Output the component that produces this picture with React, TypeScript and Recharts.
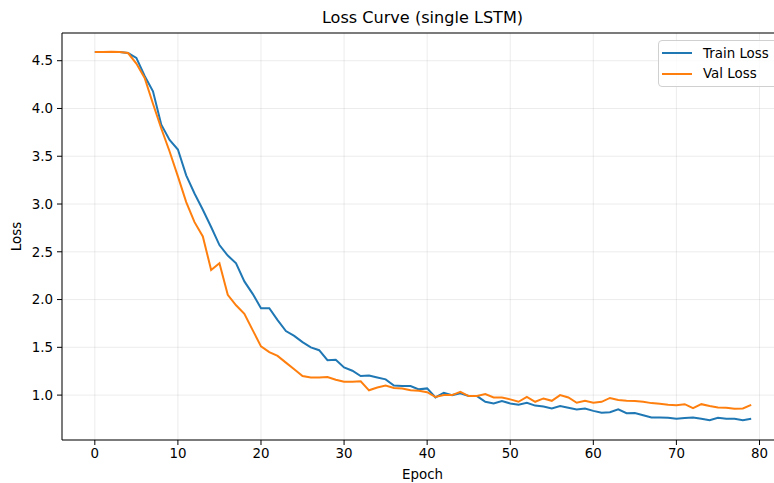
import { LineChart, Line, XAxis, YAxis, CartesianGrid, ReferenceLine } from 'recharts';

const epochs = Array.from({ length: 80 }, (_, i) => i);

const trainLoss = [
  4.59, 4.59, 4.59, 4.59, 4.58, 4.53, 4.34, 4.18, 3.83, 3.67,
  3.57, 3.30, 3.11, 2.94, 2.76, 2.57, 2.46, 2.38, 2.19, 2.06,
  1.91, 1.91, 1.785, 1.67, 1.62, 1.555, 1.50, 1.47, 1.366, 1.37,
  1.29, 1.255, 1.20, 1.205, 1.185, 1.165, 1.10, 1.095, 1.095, 1.06,
  1.07, 0.976, 1.025, 1.00, 1.02, 0.99, 0.99, 0.93, 0.913, 0.937,
  0.913, 0.90, 0.92, 0.89, 0.88, 0.86, 0.885, 0.867, 0.85, 0.86,
  0.835, 0.815, 0.82, 0.85, 0.81, 0.813, 0.79, 0.766, 0.766, 0.762,
  0.752, 0.76, 0.766, 0.752, 0.738, 0.762, 0.752, 0.752, 0.738, 0.752,
];

const valLoss = [
  4.59, 4.59, 4.595, 4.59, 4.58, 4.47, 4.32, 4.05, 3.79, 3.55,
  3.29, 3.02, 2.81, 2.66, 2.31, 2.38, 2.05, 1.94, 1.85, 1.68,
  1.51, 1.45, 1.41, 1.34, 1.27, 1.20, 1.185, 1.185, 1.19, 1.16,
  1.14, 1.14, 1.145, 1.05, 1.08, 1.10, 1.075, 1.07, 1.05, 1.045,
  1.03, 0.98, 1.00, 1.00, 1.035, 0.99, 0.99, 1.01, 0.975, 0.975,
  0.955, 0.93, 0.98, 0.93, 0.965, 0.94, 1.00, 0.975, 0.92, 0.94,
  0.92, 0.93, 0.97, 0.948, 0.94, 0.937, 0.93, 0.916, 0.91, 0.90,
  0.895, 0.905, 0.864, 0.905, 0.885, 0.87, 0.867, 0.857, 0.86, 0.898,
];

const xTicks = [0, 10, 20, 30, 40, 50, 60, 70, 80];
const yTicks = [1.0, 1.5, 2.0, 2.5, 3.0, 3.5, 4.0, 4.5];

const data = epochs.map((e, i) => ({ epoch: e, train: trainLoss[i], val: valLoss[i] }));

const FONT = '"DejaVu Sans", sans-serif';
const Y_MIN = 0.53;
const Y_MAX = 4.79;

function LegendBox() {
  const items = [
    { label: 'Train Loss', color: '#1f77b4' },
    { label: 'Val Loss', color: '#ff7f0e' },
  ];
  return (
    <div
      style={{
        position: 'absolute',
        left: 658,
        top: 40,
        border: '1px solid #d0d0d0',
        borderRadius: 4,
        background: 'rgba(255,255,255,0.8)',
        padding: '2px 8px 2px 3px',
        fontFamily: FONT,
        fontSize: 13.4,
        color: '#000',
        width: 112,
      }}
    >
      {items.map((it) => (
        <div key={it.label} style={{ display: 'flex', alignItems: 'center', height: 20.5 }}>
          <div style={{ width: 30, height: 2, background: it.color, marginRight: 11 }} />
          <span>{it.label}</span>
        </div>
      ))}
    </div>
  );
}

export default function App() {
  return (
    <div style={{ position: 'absolute', left: 0, top: 0, width: 774, height: 483, overflow: 'hidden', background: '#fff' }}>
      <div
        style={{
          position: 'absolute',
          left: 62,
          width: 721,
          top: 8,
          textAlign: 'center',
          fontFamily: FONT,
          fontSize: 16.1,
          color: '#000',
        }}
      >
        Loss Curve (single LSTM)
      </div>
      <LineChart width={784} height={483} data={data} margin={{ top: 33, right: 0, left: 0, bottom: 0 }}>
        <CartesianGrid stroke="#b0b0b0" strokeOpacity={0.3} strokeWidth={0.8} />
        <XAxis
          dataKey="epoch"
          type="number"
          domain={[-3.95, 82.95]}
          ticks={xTicks}
          allowDataOverflow
          height={43}
          stroke="#000"
          tickSize={5}
          tickMargin={3}
          tick={{ fontSize: 13.4, fontFamily: FONT, fill: '#000' }}
          label={{
            content: (p: any) => {
              const vb = p.viewBox;
              return (
                <text x={422.5} y={vb.y + 39} textAnchor="middle" fontFamily={FONT} fontSize={13.4} fill="#000">
                  Epoch
                </text>
              );
            },
          }}
        />
        <YAxis
          type="number"
          domain={[Y_MIN, Y_MAX]}
          ticks={yTicks}
          allowDataOverflow
          width={62}
          stroke="#000"
          tickSize={5}
          tickMargin={4}
          tickFormatter={(v: number) => v.toFixed(1)}
          tick={{ fontSize: 13.4, fontFamily: FONT, fill: '#000' }}
          label={{
            content: (p: any) => {
              const vb = p.viewBox;
              const cy = vb.y + vb.height / 2;
              return (
                <text
                  x={21}
                  y={cy}
                  transform={`rotate(-90 21 ${cy})`}
                  textAnchor="middle"
                  fontFamily={FONT}
                  fontSize={13.4}
                  fill="#000"
                >
                  Loss
                </text>
              );
            },
          }}
        />
        <ReferenceLine y={Y_MAX} stroke="#000" strokeWidth={1} ifOverflow="extendDomain" />
        <Line dataKey="train" name="Train Loss" stroke="#1f77b4" strokeWidth={2} dot={false} isAnimationActive={false} />
        <Line dataKey="val" name="Val Loss" stroke="#ff7f0e" strokeWidth={2} dot={false} isAnimationActive={false} />
      </LineChart>
      <LegendBox />
    </div>
  );
}
